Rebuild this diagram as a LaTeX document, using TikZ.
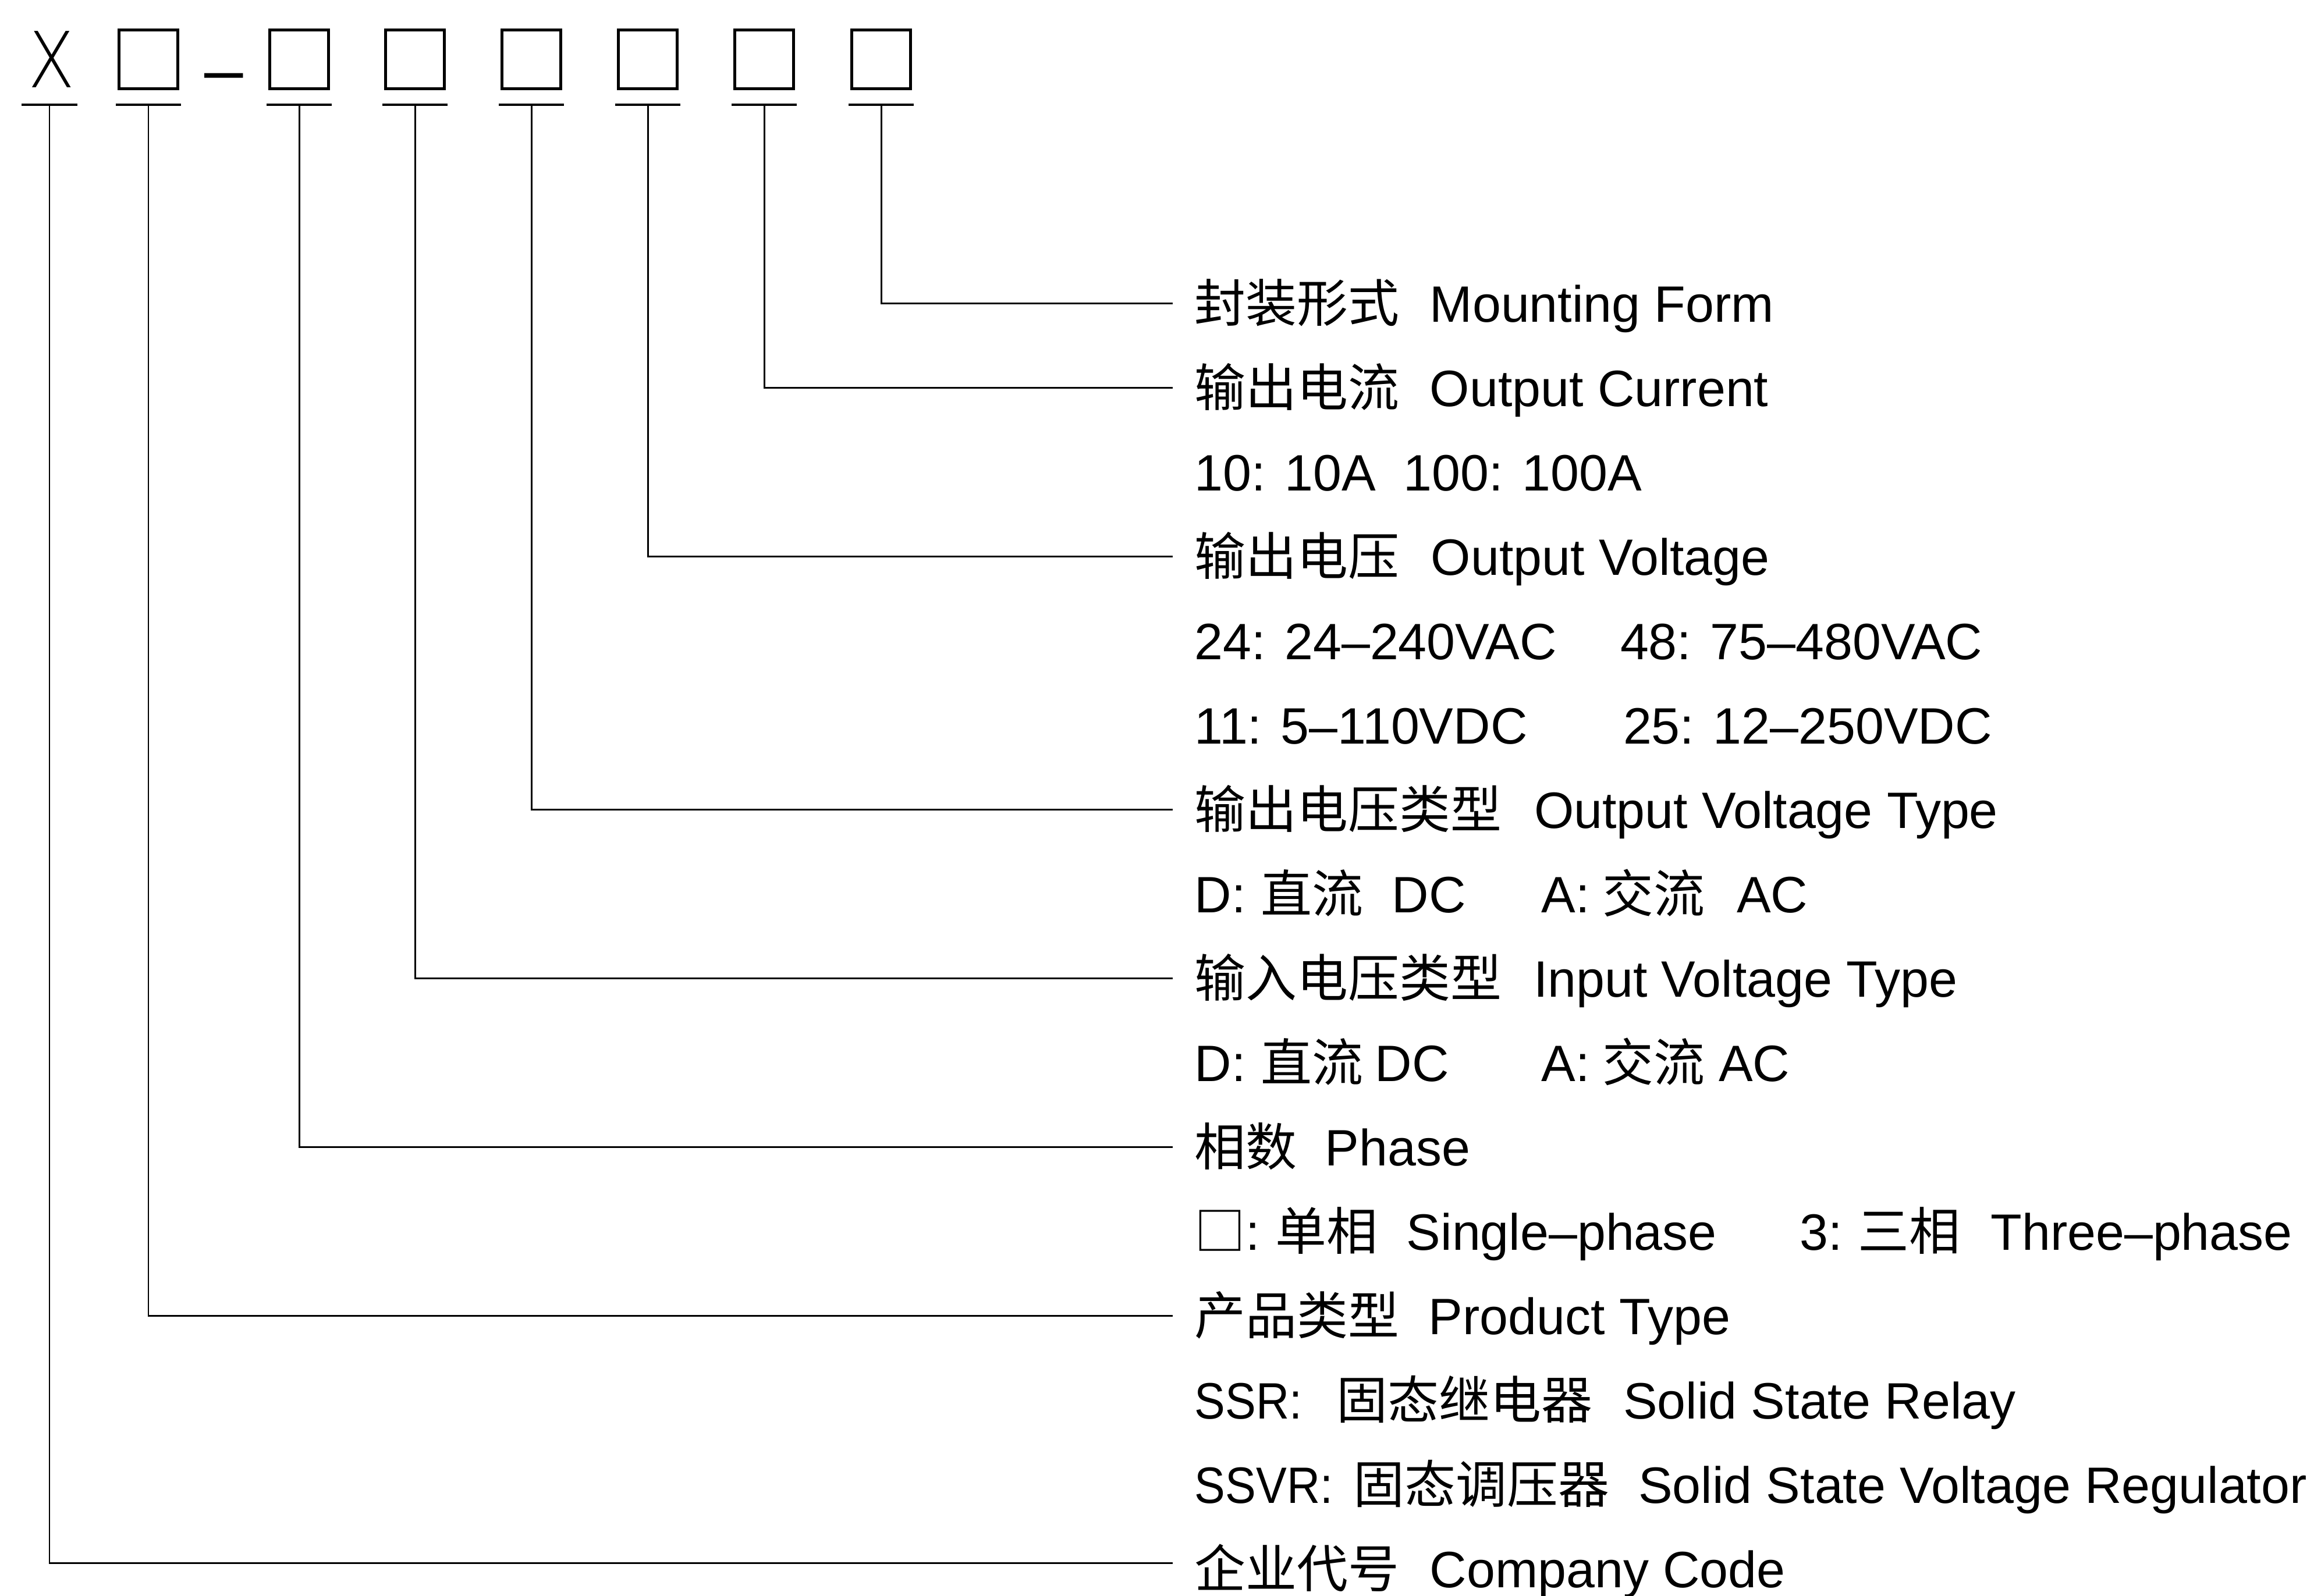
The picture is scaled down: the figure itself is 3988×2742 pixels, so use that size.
\documentclass[tikz,border=0pt]{standalone}
\usepackage{fontspec}
\setmainfont{Liberation Sans}
\newfontfamily\cjk{Noto Sans CJK SC}
\newfontfamily\xlight{DejaVu Sans ExtraLight}
\usetikzlibrary{calc}
\begin{document}
\begin{tikzpicture}[x=0.01cm, y=-0.01cm,
  conn/.style={line width=0.85pt, black},
  ul/.style={line width=1.15pt, black},
  codebox/.style={draw, line width=1.42pt, minimum width=1.0cm, minimum height=1.0cm, inner sep=0pt},
  lbl/.style={anchor=base west, inner sep=0pt, font=\fontsize{25}{30}\selectfont}]
\useasboundingbox (0,0) rectangle (3988,2742);

% code line
\node[anchor=base, inner sep=0pt, font=\xlight\fontsize{37.8}{40}\selectfont] (cx) at (89,150) {\scalebox{0.88}[1]{X}};
\node[anchor=base, inner sep=0pt, font=\fontsize{34}{36}\selectfont] (dash) at (385,160) {–};
\foreach \n/\x in {1/255,2/514,3/713,4/913,5/1113,6/1313,7/1514}
  \node[codebox] (b\n) at (\x,102) {};

% underlines
\coordinate (u0) at (85,180);
\draw[ul] ($(u0)+(-48,0)$) -- ($(u0)+(48,0)$);
\foreach \n/\x in {1/255,2/514,3/713,4/913,5/1113,6/1313,7/1514}{
  \coordinate (u\n) at (\x,180);
  \draw[ul] ($(u\n)+(-56,0)$) -- ($(u\n)+(56,0)$);
}

% connector ends
\coordinate (e7) at (2015,521);
\coordinate (e6) at (2015,666);
\coordinate (e5) at (2015,956);
\coordinate (e4) at (2015,1391);
\coordinate (e3) at (2015,1681);
\coordinate (e2) at (2015,1971);
\coordinate (e1) at (2015,2261);
\coordinate (e0) at (2015,2686);
\foreach \n in {0,...,7} \draw[conn] (u\n) |- (e\n);

% labels
\node[lbl] (r0) at (2052,553) {\makebox[4.04cm][l]{\cjk 封装形式}Mounting Form};
\node[lbl] (r1) at (2052,698) {\makebox[4.04cm][l]{\cjk 输出电流}Output Current};
\node[lbl] (r2) at (2052,843) {\makebox[3.59cm][l]{10: 10A}100: 100A};
\node[lbl] (r3) at (2052,988) {\makebox[4.06cm][l]{\cjk 输出电压}Output Voltage};
\node[lbl] (r4) at (2052,1133) {\makebox[7.31cm][l]{24: 24–240VAC}48: 75–480VAC};
\node[lbl] (r5) at (2052,1278) {\makebox[7.36cm][l]{11: 5–110VDC}25: 12–250VDC};
\node[lbl] (r6) at (2052,1423) {\makebox[5.83cm][l]{\cjk 输出电压类型}Output Voltage Type};
\node[lbl] (r7) at (2052,1568) {\makebox[1.14cm][l]{D:}\makebox[2.25cm][l]{\cjk 直流}\makebox[2.57cm][l]{DC}\makebox[1.04cm][l]{A:}\makebox[2.31cm][l]{\cjk 交流}AC};
\node[lbl] (r8) at (2052,1713) {\makebox[5.82cm][l]{\cjk 输入电压类型}Input Voltage Type};
\node[lbl] (r9) at (2052,1858) {\makebox[1.14cm][l]{D:}\makebox[1.96cm][l]{\cjk 直流}\makebox[2.86cm][l]{DC}\makebox[1.04cm][l]{A:}\makebox[2.00cm][l]{\cjk 交流}AC};
\node[lbl] (r10) at (2052,2003) {\makebox[2.24cm][l]{\cjk 相数}Phase};
\node[lbl] (r11) at (2052,2148) {\makebox[1.39cm][l]{{\cjk □}:}\makebox[2.25cm][l]{\cjk 单相}\makebox[6.75cm][l]{Single–phase}\makebox[1.00cm][l]{3:}\makebox[2.28cm][l]{\cjk 三相}Three–phase};
\node[lbl] (r12) at (2052,2293) {\makebox[4.02cm][l]{\cjk 产品类型}Product Type};
\node[lbl] (r13) at (2052,2438) {\makebox[2.44cm][l]{\scalebox{0.9}[1]{SSR:}}\makebox[4.92cm][l]{\cjk 固态继电器}Solid State Relay};
\node[lbl] (r14) at (2052,2583) {\makebox[2.73cm][l]{\scalebox{0.9}[1]{SSVR:}}\makebox[4.89cm][l]{\cjk 固态调压器}Solid State Voltage Regulator};
\node[lbl] (r15) at (2052,2728) {\makebox[4.04cm][l]{\cjk 企业代号}Company Code};
\end{tikzpicture}
\end{document}
